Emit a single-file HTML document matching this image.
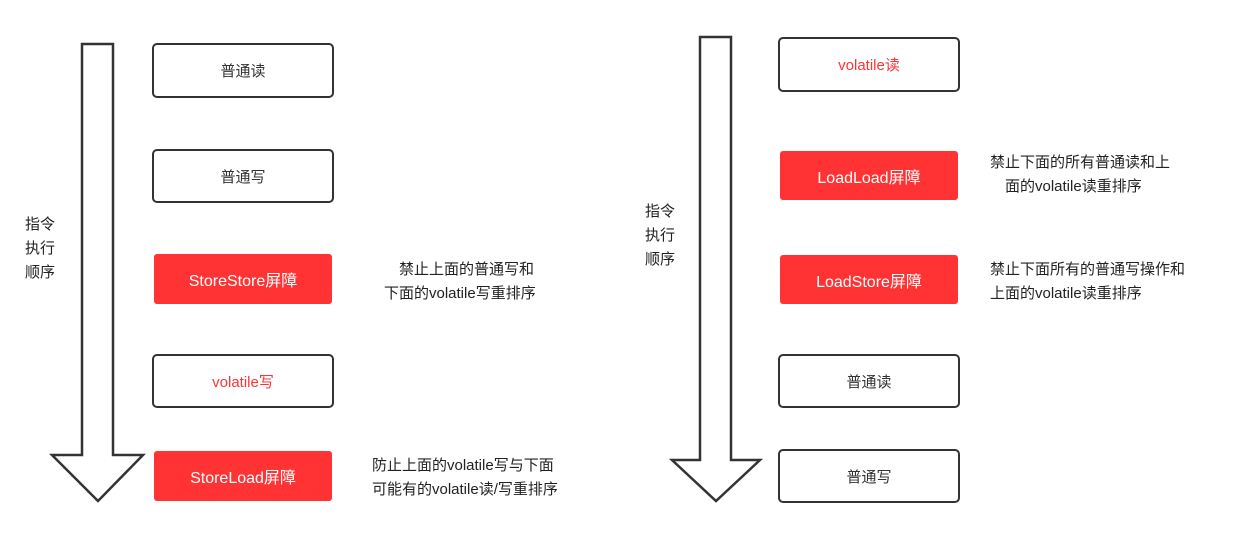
<!DOCTYPE html>
<html><head><meta charset="utf-8"><style>
body{margin:0;width:1254px;height:537px;background:#fff;position:relative;font-family:"Liberation Sans","Noto Sans CJK SC",sans-serif;overflow:hidden}
.b{position:absolute;box-sizing:border-box;border:2px solid #333;border-radius:5px;background:#fff;display:flex;align-items:center;justify-content:center;font-size:15px;color:#333}
.r{background:#f33;border:none;border-radius:3px;color:#fff;font-size:16px}
.t{position:absolute;font-size:15px;color:#222;line-height:24px;white-space:nowrap}
.red{color:#f33}
</style></head><body>
<svg width="1254" height="537" style="position:absolute;left:0;top:0">
<polygon points="82,44 113,44 113,455 143,455 98,501 52,455 82,455" fill="#fff" stroke="#333" stroke-width="2.5" stroke-linejoin="miter"/>
<polygon points="700,37 731,37 731,460 760,460 716,501 672,460 700,460" fill="#fff" stroke="#333" stroke-width="2.5"/>
</svg>
<div class="t" style="left:25px;top:213px">指令<br>执行<br>顺序</div>
<div class="t" style="left:645px;top:200px">指令<br>执行<br>顺序</div>
<div class="b" style="left:152px;top:43px;width:182px;height:55px">普通读</div>
<div class="b" style="left:152px;top:149px;width:182px;height:54px">普通写</div>
<div class="b r" style="left:154px;top:254px;width:178px;height:50px">StoreStore屏障</div>
<div class="b red" style="left:152px;top:354px;width:182px;height:54px">volatile写</div>
<div class="b r" style="left:154px;top:451px;width:178px;height:50px">StoreLoad屏障</div>
<div class="t" style="left:384px;top:258px">　禁止上面的普通写和<br>下面的volatile写重排序</div>
<div class="t" style="left:372px;top:454px">防止上面的volatile写与下面<br>可能有的volatile读/写重排序</div>
<div class="b red" style="left:778px;top:37px;width:182px;height:55px">volatile读</div>
<div class="b r" style="left:780px;top:151px;width:178px;height:49px">LoadLoad屏障</div>
<div class="b r" style="left:780px;top:255px;width:178px;height:49px">LoadStore屏障</div>
<div class="b" style="left:778px;top:354px;width:182px;height:54px">普通读</div>
<div class="b" style="left:778px;top:449px;width:182px;height:54px">普通写</div>
<div class="t" style="left:990px;top:151px">禁止下面的所有普通读和上<br>　面的volatile读重排序</div>
<div class="t" style="left:990px;top:258px">禁止下面所有的普通写操作和<br>上面的volatile读重排序</div>
</body></html>
